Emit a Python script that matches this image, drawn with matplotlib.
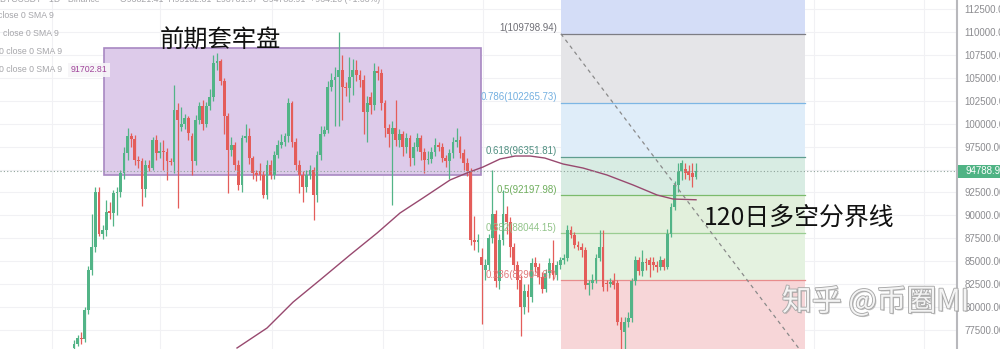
import matplotlib
matplotlib.use('Agg')
import matplotlib.pyplot as plt
import matplotlib.patheffects as pe
from matplotlib.patches import Rectangle
import numpy as np

# ---------------- data (prices in thousands USDT) ----------------
open_k = [75.5, 76.0, 76.6, 76.5, 79.7, 84.0, 86.6, 92.6, 88.0, 88.4,
          90.4, 90.3, 92.4, 92.6, 94.6, 96.8, 98.6, 98.3, 96.0, 95.9,
          92.9, 95.5, 95.2, 98.2, 96.8, 97.0, 96.9, 95.9, 95.8, 101.5,
          99.6, 100.0, 100.6, 98.6, 95.9, 100.4, 101.9, 100.0, 101.9, 102.9,
          106.6, 106.8, 104.6, 100.8, 97.1, 97.7, 95.5, 93.3, 98.4, 98.6,
          96.2, 94.6, 94.8, 94.4, 92.2, 95.5, 94.4, 96.6, 97.7, 98.0,
          98.6, 102.2, 98.0, 95.5, 94.4, 93.1, 94.4, 94.9, 92.2, 96.6,
          98.9, 99.3, 104.0, 104.8, 105.1, 105.9, 104.0, 103.9, 105.1, 105.9,
          105.3, 104.8, 101.3, 102.9, 102.0, 105.7, 105.5, 102.2, 99.5, 98.9,
          99.5, 98.2, 98.9, 97.5, 98.4, 96.2, 97.5, 98.4, 96.9, 96.0,
          96.1, 96.9, 97.7, 97.5, 96.2, 95.9, 96.8, 98.0, 98.2, 96.8,
          95.7, 94.8, 87.3, 87.1, 85.5, 84.0, 84.6, 87.5, 90.2, 82.8,
          87.3, 90.2, 89.3, 86.6, 84.6, 83.0, 80.0, 81.8, 81.1, 84.8,
          84.4, 83.3, 82.0, 83.7, 84.8, 83.5, 84.6, 85.1, 85.3, 88.4,
          87.9, 86.8, 86.6, 86.2, 82.4, 82.6, 83.0, 85.3, 86.6, 82.6,
          82.5, 82.8, 82.6, 78.4, 77.3, 78.4, 78.8, 82.8, 85.1, 83.9,
          84.9, 85.1, 84.9, 84.6, 84.4, 85.1, 84.4, 88.0, 90.9, 93.3,
          94.8, 95.1, 94.8, 94.6, 94.2]
high_k = [76.4, 77.0, 77.3, 80.0, 84.5, 90.2, 93.1, 93.1, 89.0, 91.7,
          91.5, 92.8, 93.1, 95.0, 97.5, 99.5, 99.0, 98.8, 96.5, 96.2,
          96.0, 96.0, 98.5, 98.8, 98.0, 98.2, 97.3, 96.3, 104.2, 102.2,
          101.8, 101.0, 100.8, 99.0, 100.9, 102.4, 102.6, 102.4, 103.8, 107.5,
          107.7, 107.0, 105.0, 101.2, 98.5, 98.0, 96.0, 98.8, 100.0, 99.5,
          96.5, 95.0, 95.7, 94.8, 96.0, 96.0, 97.0, 98.2, 98.9, 99.0,
          102.8, 102.5, 98.4, 96.0, 94.8, 94.9, 95.5, 95.3, 97.0, 99.7,
          99.7, 104.6, 105.5, 106.2, 110.0, 107.5, 104.5, 107.3, 107.1, 106.9,
          105.8, 105.3, 103.0, 103.5, 106.6, 106.3, 106.0, 102.6, 100.0, 100.3,
          102.6, 99.4, 99.2, 99.0, 98.8, 98.0, 99.0, 98.8, 97.3, 97.0,
          97.5, 98.4, 98.0, 97.9, 96.6, 97.2, 98.5, 99.5, 98.6, 97.2,
          96.2, 95.2, 89.9, 88.0, 86.4, 85.2, 88.0, 94.9, 90.6, 88.0,
          92.8, 91.0, 89.8, 87.0, 85.0, 83.5, 82.5, 82.5, 85.3, 85.5,
          84.8, 83.8, 84.2, 85.3, 87.3, 85.0, 85.5, 85.8, 88.9, 88.8,
          88.2, 87.2, 87.0, 86.6, 83.0, 83.6, 85.8, 88.4, 88.4, 83.0,
          83.2, 83.7, 83.0, 78.9, 78.9, 79.5, 83.2, 85.6, 85.5, 86.2,
          85.3, 85.5, 85.5, 85.0, 85.6, 85.4, 88.5, 91.3, 93.7, 95.7,
          96.0, 95.7, 95.5, 95.7, 95.7]
low_k = [75.3, 75.8, 76.0, 76.2, 79.3, 83.5, 86.0, 87.7, 87.4, 87.7,
         89.6, 88.8, 90.0, 92.0, 94.0, 96.0, 97.5, 95.5, 95.2, 91.0,
         92.0, 94.8, 94.9, 96.0, 96.2, 95.0, 93.9, 95.5, 94.6, 90.8,
         99.2, 99.4, 98.2, 94.4, 95.5, 100.0, 99.3, 99.6, 101.5, 102.5,
         105.8, 104.2, 98.9, 92.4, 96.5, 95.0, 92.8, 92.6, 98.0, 95.6,
         94.0, 93.7, 93.9, 91.9, 91.8, 94.0, 94.0, 96.2, 97.3, 97.6,
         98.0, 97.5, 95.0, 92.4, 91.5, 92.6, 94.0, 89.5, 91.5, 96.0,
         98.6, 99.0, 103.6, 99.7, 99.7, 100.4, 103.0, 102.4, 103.1, 104.6,
         104.0, 98.9, 98.0, 101.0, 101.5, 104.8, 101.5, 98.5, 97.5, 91.1,
         97.6, 97.5, 96.5, 96.8, 95.4, 95.5, 97.0, 96.0, 94.6, 95.6,
         95.7, 96.5, 97.0, 95.8, 95.3, 94.0, 96.3, 97.5, 96.3, 95.0,
         94.3, 86.8, 86.2, 86.0, 78.2, 83.0, 84.0, 87.0, 82.2, 82.0,
         86.8, 88.0, 85.5, 84.0, 82.0, 76.8, 79.3, 79.5, 80.6, 83.8,
         82.5, 81.5, 81.6, 83.2, 83.0, 83.0, 84.2, 84.7, 85.0, 87.5,
         86.4, 86.2, 85.5, 82.0, 81.3, 82.0, 82.6, 85.0, 81.8, 81.8,
         82.2, 82.0, 78.0, 75.3, 74.6, 77.8, 78.4, 82.4, 83.5, 83.4,
         84.0, 83.3, 84.0, 83.8, 84.0, 84.0, 84.2, 87.6, 90.6, 92.5,
         93.9, 94.0, 93.9, 93.1, 94.0]
close_k = [76.0, 76.6, 76.5, 79.7, 84.0, 86.6, 92.6, 88.0, 88.4, 90.4,
           90.3, 92.4, 92.6, 94.6, 96.8, 98.6, 98.3, 96.0, 95.9, 92.9,
           95.5, 95.2, 98.2, 96.8, 97.0, 96.9, 95.9, 95.8, 101.5, 100.4,
           100.0, 100.6, 99.0, 95.9, 100.4, 101.9, 100.0, 101.9, 102.9, 106.6,
           106.8, 104.6, 100.8, 97.1, 97.7, 95.5, 93.3, 98.4, 98.6, 96.2,
           94.6, 94.4, 94.4, 92.2, 95.5, 94.4, 96.6, 97.7, 98.0, 98.6,
           102.2, 98.0, 95.5, 94.4, 93.1, 94.4, 94.9, 92.2, 96.6, 98.9,
           99.3, 104.0, 104.8, 105.1, 105.9, 104.0, 103.9, 105.1, 105.9, 105.3,
           104.8, 101.3, 102.2, 102.0, 105.7, 105.5, 102.2, 99.5, 98.9, 99.5,
           98.2, 98.9, 97.5, 98.4, 96.2, 97.5, 98.4, 96.9, 96.0, 96.1,
           96.9, 97.7, 97.5, 96.2, 95.9, 96.8, 98.0, 98.2, 96.8, 95.7,
           94.8, 87.3, 87.1, 87.3, 84.6, 84.6, 87.5, 90.2, 82.8, 87.3,
           90.2, 89.3, 86.6, 84.6, 83.0, 80.0, 81.8, 81.1, 84.8, 84.4,
           83.3, 82.0, 83.7, 84.8, 83.5, 84.6, 85.1, 85.3, 88.4, 87.9,
           86.8, 86.6, 86.2, 82.4, 82.6, 83.0, 85.3, 86.6, 82.2, 82.5,
           82.7, 82.4, 78.4, 77.5, 78.4, 78.8, 82.8, 85.1, 83.9, 84.9,
           84.8, 84.6, 84.6, 84.4, 85.1, 84.4, 88.0, 90.9, 93.3, 94.8,
           95.7, 94.6, 94.4, 94.2, 94.79]

# 120-day SMA, read at candle positions (index, thousands)
sma_x = [45.6, 54.0, 61.3, 68.8, 77.2, 84.8, 91.2, 97.6, 105.2, 109.9,
         114.4, 119.2, 123.4, 127.6, 131.7, 136.8, 142.4, 149.1, 156.4, 163.1,
         167.6, 174.0]
sma_k = [75.54, 77.72, 80.55, 82.95, 85.68, 88.08, 90.26, 91.89, 93.86, 94.62,
         95.27, 96.15, 96.47, 96.47, 96.25, 95.60, 95.16, 94.40, 93.31, 92.22,
         91.78, 91.70]
sma_last = 91702.81

# Fibonacci retracement
fib_high = 109798.94
fib_low = 74597.02
fib_levels = [0, 0.236, 0.382, 0.5, 0.618, 0.786, 1, 1.618]
fib_x0, fib_x1 = 136.2, 204.5

# consolidation box ("前期套牢盘")
box_x0, box_x1 = 8.4, 113.8
box_lo, box_hi = 94400, 108250

last_price = 94788.91
yticks = list(range(77500, 112501, 2500))
month_x = [-6.15, 24.06, 55.38, 86.43, 114.41, 146.01, 176.22, 206.99, 237.76]

# ---------------- figure ----------------
fig = plt.figure(figsize=(10, 3.49), dpi=100)
ax = fig.add_axes([0, 0, 0.957, 1])
ax.set_xlim(-20.70, 247.0)
ax.set_ylim(75430, 113481)

o = np.array(open_k) * 1000
h = np.array(high_k) * 1000
l = np.array(low_k) * 1000
c = np.array(close_k) * 1000
x = np.arange(len(o))

GREEN = '#52b487'
RED = '#e45d5a'

# grid
for yt in yticks:
    ax.axhline(yt, color='#f1f1f4', lw=0.8, zorder=0)
for mx in month_x:
    ax.axvline(mx, color='#f1f1f4', lw=0.8, zorder=0)

# fib zones
zone_colors = ['#f7d6d8', '#e4f2e0', '#e2f0dc', '#d8ece3', '#dfedf9', '#e5e5e8', '#d4ddf7']
line_colors = ['#8a8a90', '#e88c8c', '#9acd92', '#7bbb6c', '#5f9d8f', '#7db6e4', '#7d7d84', '#6f86e8']
lab_colors = ['#8a8a90', '#e07a7a', '#92c48a', '#6fae5d', '#4f8f80', '#74b0e0', '#6f6f76', '#6f86e8']
fib_prices = [fib_low + lv * (fib_high - fib_low) for lv in fib_levels]
for i in range(len(fib_levels) - 1):
    ax.fill_between([fib_x0, fib_x1], fib_prices[i], fib_prices[i + 1],
                    color=zone_colors[i], lw=0, zorder=1)
for lv, p, lc, tc in zip(fib_levels, fib_prices, line_colors, lab_colors):
    if lv in (0, 1.618):
        continue
    ax.plot([fib_x0, fib_x1], [p, p], color=lc, lw=0.9, zorder=2)
    ax.annotate(f'{lv:g}({p:.2f})', (fib_x0, p), xytext=(-3, 0.5),
                textcoords='offset points', ha='right', va='bottom',
                fontsize=7, color=tc, family='Liberation Sans', zorder=6)
ax.plot([fib_x0, fib_x1], [fib_high, fib_low], color='#8a8a8a', lw=0.9,
        ls=(0, (3, 3)), zorder=7)

# consolidation box
ax.add_patch(Rectangle((box_x0, box_lo), box_x1 - box_x0, box_hi - box_lo,
                       facecolor='#ddcbea', edgecolor='#a888c2', lw=1.2, zorder=1))

# candles
up = c >= o
cols = np.where(up, GREEN, RED)
ax.vlines(x, l, h, colors=cols, lw=0.9, zorder=3)
bottom = np.minimum(o, c)
height = np.maximum(np.abs(c - o), 130)
ax.bar(x, height, bottom=bottom, width=0.78, color=cols, lw=0, zorder=4)

# SMA
ax.plot(sma_x, np.array(sma_k) * 1000, color='#98496f', lw=1.0, zorder=5)

# last price line
ax.axhline(last_price, color='#8fa39b', lw=0.8, ls=(0, (1, 2)), zorder=5)

# axis styling
for s in ['top', 'left', 'bottom']:
    ax.spines[s].set_visible(False)
ax.spines['right'].set_color('#b8b8bc')
ax.spines['right'].set_linewidth(1.5)
ax.set_xticks([])
ax.yaxis.tick_right()
ax.set_yticks(yticks)
ax.set_yticklabels([f'{v:.2f}' for v in yticks])
ax.tick_params(axis='y', length=0, pad=5.5, labelsize=7, labelcolor='#8c8c90')
for t in ax.get_yticklabels():
    t.set_family('Liberation Sans')

# price label on axis
py = 1 - 171 / 349
fig.patches.append(Rectangle((0.958, py - 6.5 / 349), 0.05, 13 / 349,
                             transform=fig.transFigure, facecolor='#4fb384',
                             edgecolor='none', zorder=10))
fig.text(0.965, py, f'{last_price:.2f}', color='white', fontsize=7,
         family='Liberation Sans', va='center', ha='left', zorder=11)

# annotations
cjk = ['Noto Sans CJK SC', 'DejaVu Sans']
fig.text(0.160, 1 - 41 / 349, '前期套牢盘', fontsize=17.5, family=cjk,
         color='#111111', va='center', ha='left', zorder=12)
fig.text(0.704, 1 - 218 / 349, '120日多空分界线', fontsize=17.9, family=cjk,
         color='#111111', va='center', ha='left', zorder=12)
fig.text(0.782, 1 - 302 / 349, '知乎 @币圈MI', fontsize=21.5, family=cjk,
         color='#f4f4f4', va='center', ha='left', zorder=13,
         path_effects=[pe.withSimplePatchShadow(offset=(1, -1), shadow_rgbFace='#9a9a9a', alpha=0.6),
                       pe.withStroke(linewidth=1.3, foreground='#a9a9a9')])

# legend rows (partially cut at the left edge)
leg_kw = dict(fontsize=6.3, family='Liberation Sans', color='#a6a6aa', va='center', ha='left', zorder=12)
fig.text(0.0, 1 + 1 / 349, 'BTCUSDT · 1D · Binance', **leg_kw)
fig.text(0.12, 1 + 1 / 349, 'O93821.41  H95182.81  L93781.97  C94788.91  +964.20 (+1.03%)', **leg_kw)
fig.text(-0.002, 1 - 15 / 349, 'close 0 SMA 9', **leg_kw)
fig.text(0.003, 1 - 33 / 349, 'close 0 SMA 9', **leg_kw)
fig.text(-0.001, 1 - 52 / 349, '0 close 0 SMA 9', **leg_kw)
fig.text(-0.001, 1 - 70 / 349, '0 close 0 SMA 9', **leg_kw)
fig.text(0.071, 1 - 70 / 349, f'{sma_last:.2f}', fontsize=6.3, family='Liberation Sans',
         color='#a0449a', va='center', ha='left', zorder=12,
         bbox=dict(boxstyle='square,pad=0.3', facecolor='#f7f5f8', edgecolor='none', alpha=0.9))

fig.savefig('out.png', dpi=100)
